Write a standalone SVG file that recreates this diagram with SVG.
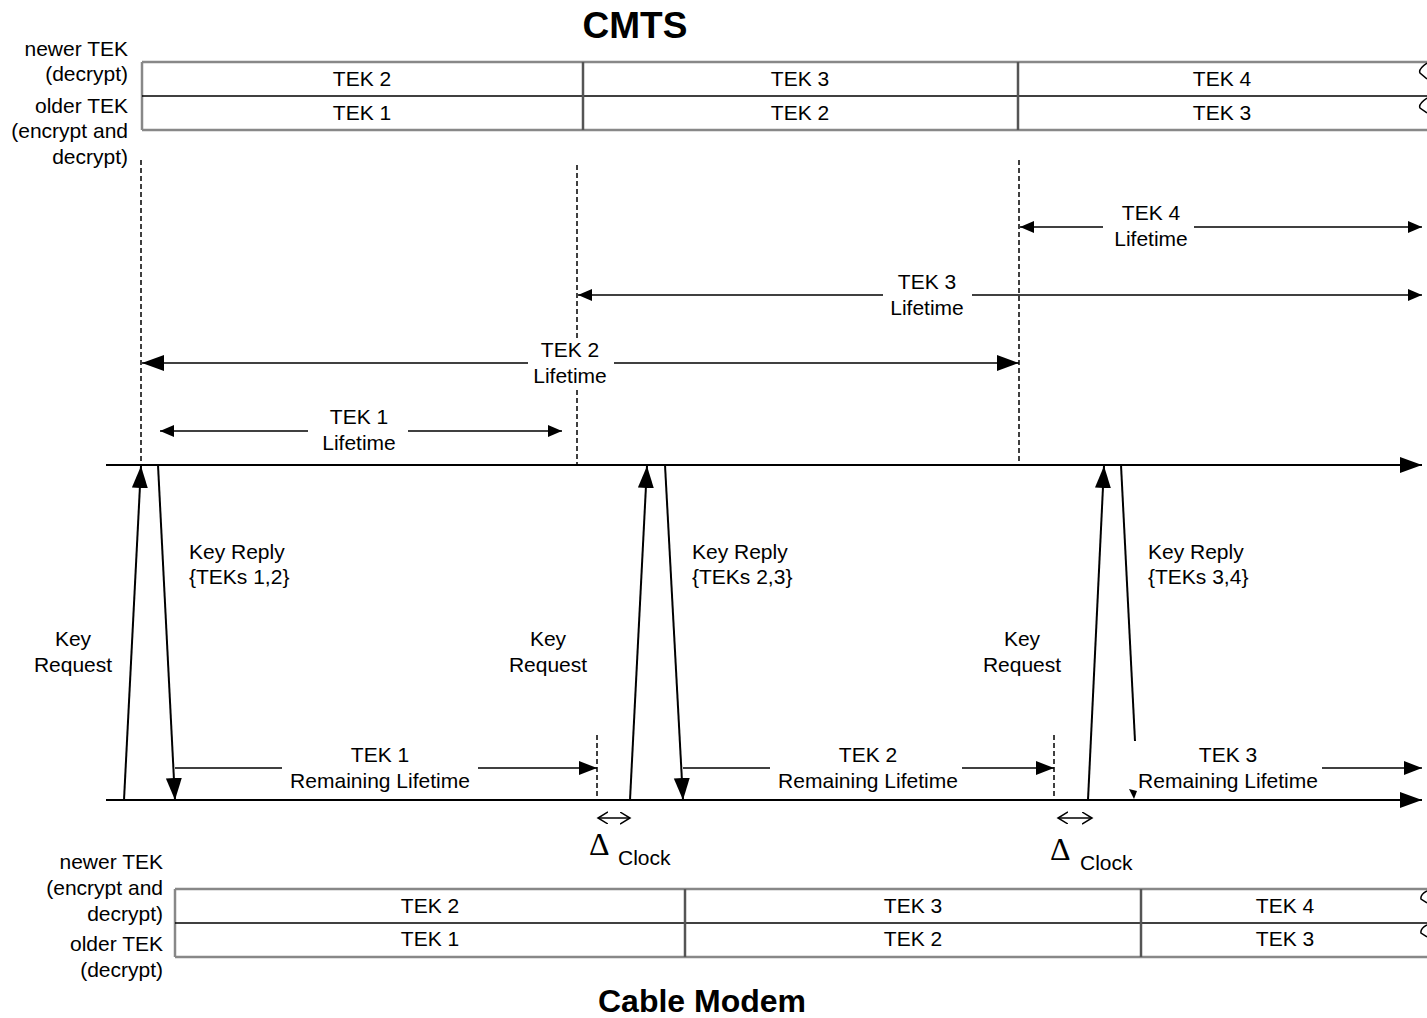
<svg xmlns="http://www.w3.org/2000/svg" width="1427" height="1018" viewBox="0 0 1427 1018">
<style>
text{font-family:"Liberation Sans",Arial,sans-serif;font-size:21px;fill:#000}
.t{text-anchor:middle}
.r{text-anchor:end}
.title{font-weight:bold;text-anchor:middle}
.ln{stroke:#000;stroke-width:1.5;fill:none}
.th{stroke:#000;stroke-width:2;fill:none}
.dash{stroke:#000;stroke-width:1.5;stroke-dasharray:5,3;fill:none}
.outer{stroke:#888;stroke-width:2.5;fill:none}
.col{stroke:#555;stroke-width:2.5;fill:none}
.delta{font-family:"Liberation Serif","Times New Roman",serif;font-size:32px}
</style>
<defs>
<marker id="aBig" markerUnits="userSpaceOnUse" markerWidth="24" markerHeight="18" refX="22" refY="8" orient="auto-start-reverse"><path d="M0,0 L22,8 L0,16 Z" fill="#000"/></marker>
<marker id="aMed" markerUnits="userSpaceOnUse" markerWidth="20" markerHeight="16" refX="18" refY="7" orient="auto-start-reverse"><path d="M0,0 L18,7 L0,14 Z" fill="#000"/></marker>
<marker id="aSm" markerUnits="userSpaceOnUse" markerWidth="16" markerHeight="14" refX="14" refY="6" orient="auto-start-reverse"><path d="M0,0 L14,6 L0,12 Z" fill="#000"/></marker>
<marker id="aOpen" markerUnits="userSpaceOnUse" markerWidth="12" markerHeight="14" refX="10" refY="6" orient="auto-start-reverse"><path d="M0,0 L10,6 L0,12" fill="none" stroke="#000" stroke-width="1.5"/></marker>
</defs>

<text x="635" y="38" class="title" style="font-size:37px">CMTS</text>
<text x="702" y="1012" class="title" style="font-size:32px">Cable Modem</text>

<g id="cmts-table">
<line x1="142" y1="62" x2="1427" y2="62" class="outer"/>
<line x1="142" y1="130" x2="1427" y2="130" class="outer"/>
<line x1="142" y1="62" x2="142" y2="130" class="outer"/>
<line x1="142" y1="96" x2="1427" y2="96" class="ln"/>
<line x1="583" y1="62" x2="583" y2="130" class="col"/>
<line x1="1018" y1="62" x2="1018" y2="130" class="col"/>
<path d="M1427,63 Q1418,69 1420,73 L1427,79" class="ln"/>
<path d="M1427,98 Q1418,104 1420,108 L1427,113" class="ln"/>
<text x="362" y="86" class="t">TEK 2</text>
<text x="362" y="120" class="t">TEK 1</text>
<text x="800" y="86" class="t">TEK 3</text>
<text x="800" y="120" class="t">TEK 2</text>
<text x="1222" y="86" class="t">TEK 4</text>
<text x="1222" y="120" class="t">TEK 3</text>
<text x="128" y="56" class="r">newer TEK</text>
<text x="128" y="81" class="r">(decrypt)</text>
<text x="128" y="113" class="r">older TEK</text>
<text x="128" y="138" class="r">(encrypt and</text>
<text x="128" y="164" class="r">decrypt)</text>
</g>

<g id="cm-table">
<line x1="175" y1="889" x2="1427" y2="889" class="outer"/>
<line x1="175" y1="957" x2="1427" y2="957" class="outer"/>
<line x1="175" y1="889" x2="175" y2="957" class="outer"/>
<line x1="175" y1="923" x2="1427" y2="923" class="ln"/>
<line x1="685" y1="889" x2="685" y2="957" class="col"/>
<line x1="1141" y1="889" x2="1141" y2="957" class="col"/>
<path d="M1427,891 Q1420,895 1421,899 L1427,903" class="ln"/>
<path d="M1427,925 Q1420,929 1421,933 L1427,937" class="ln"/>
<text x="430" y="913" class="t">TEK 2</text>
<text x="430" y="946" class="t">TEK 1</text>
<text x="913" y="913" class="t">TEK 3</text>
<text x="913" y="946" class="t">TEK 2</text>
<text x="1285" y="913" class="t">TEK 4</text>
<text x="1285" y="946" class="t">TEK 3</text>
<text x="163" y="869" class="r">newer TEK</text>
<text x="163" y="895" class="r">(encrypt and</text>
<text x="163" y="921" class="r">decrypt)</text>
<text x="163" y="951" class="r">older TEK</text>
<text x="163" y="977" class="r">(decrypt)</text>
</g>

<g id="connectors">
<line x1="106" y1="465" x2="1422" y2="465" class="th" marker-end="url(#aBig)"/>
<line x1="106" y1="800" x2="1422" y2="800" class="th" marker-end="url(#aBig)"/>
<line x1="141" y1="160" x2="141" y2="465" class="dash"/>
<line x1="577" y1="165" x2="577" y2="338" class="dash"/>
<line x1="577" y1="390" x2="577" y2="465" class="dash"/>
<line x1="1019" y1="160" x2="1019" y2="465" class="dash"/>
<line x1="597" y1="735" x2="597" y2="800" class="dash"/>
<line x1="1054" y1="735" x2="1054" y2="800" class="dash"/>
<line x1="1020" y1="227" x2="1103" y2="227" class="ln" marker-start="url(#aSm)"/>
<line x1="1194" y1="227" x2="1422" y2="227" class="ln" marker-end="url(#aSm)"/>
<line x1="578" y1="295" x2="883" y2="295" class="ln" marker-start="url(#aSm)"/>
<line x1="972" y1="295" x2="1422" y2="295" class="ln" marker-end="url(#aSm)"/>
<line x1="142" y1="363" x2="528" y2="363" class="ln" marker-start="url(#aBig)"/>
<line x1="614" y1="363" x2="1019" y2="363" class="ln" marker-end="url(#aBig)"/>
<line x1="160" y1="431" x2="308" y2="431" class="ln" marker-start="url(#aSm)"/>
<line x1="408" y1="431" x2="562" y2="431" class="ln" marker-end="url(#aSm)"/>
<line x1="124" y1="800" x2="141" y2="466" class="th" marker-end="url(#aBig)"/>
<line x1="158" y1="465" x2="175" y2="800" class="th" marker-end="url(#aBig)"/>
<line x1="630" y1="800" x2="647" y2="466" class="th" marker-end="url(#aBig)"/>
<line x1="665" y1="465" x2="683" y2="800" class="th" marker-end="url(#aBig)"/>
<line x1="1088" y1="800" x2="1104" y2="466" class="th" marker-end="url(#aBig)"/>
<line x1="1121" y1="465" x2="1135" y2="741" class="th"/>
<path d="M1129,789 L1137,791 L1134,799 Z" fill="#000"/>
<line x1="175" y1="768" x2="282" y2="768" class="ln"/>
<line x1="478" y1="768" x2="597" y2="768" class="ln" marker-end="url(#aMed)"/>
<line x1="683" y1="768" x2="770" y2="768" class="ln"/>
<line x1="962" y1="768" x2="1054" y2="768" class="ln" marker-end="url(#aMed)"/>
<line x1="1322" y1="768" x2="1422" y2="768" class="ln" marker-end="url(#aMed)"/>
<line x1="598" y1="818" x2="630" y2="818" class="ln" marker-start="url(#aOpen)" marker-end="url(#aOpen)"/>
<line x1="1058" y1="818" x2="1092" y2="818" class="ln" marker-start="url(#aOpen)" marker-end="url(#aOpen)"/>
</g>

<g id="labels">
<text x="1151" y="220" class="t">TEK 4</text>
<text x="1151" y="246" class="t">Lifetime</text>
<text x="927" y="289" class="t">TEK 3</text>
<text x="927" y="315" class="t">Lifetime</text>
<text x="570" y="357" class="t">TEK 2</text>
<text x="570" y="383" class="t">Lifetime</text>
<text x="359" y="424" class="t">TEK 1</text>
<text x="359" y="450" class="t">Lifetime</text>
<text x="189" y="559">Key Reply</text>
<text x="189" y="584">{TEKs 1,2}</text>
<text x="692" y="559">Key Reply</text>
<text x="692" y="584">{TEKs 2,3}</text>
<text x="1148" y="559">Key Reply</text>
<text x="1148" y="584">{TEKs 3,4}</text>
<text x="73" y="646" class="t">Key</text>
<text x="73" y="672" class="t">Request</text>
<text x="548" y="646" class="t">Key</text>
<text x="548" y="672" class="t">Request</text>
<text x="1022" y="646" class="t">Key</text>
<text x="1022" y="672" class="t">Request</text>
<text x="380" y="762" class="t">TEK 1</text>
<text x="380" y="788" class="t">Remaining Lifetime</text>
<text x="868" y="762" class="t">TEK 2</text>
<text x="868" y="788" class="t">Remaining Lifetime</text>
<text x="1228" y="762" class="t">TEK 3</text>
<text x="1228" y="788" class="t">Remaining Lifetime</text>
<text x="589" y="855" class="delta">Δ</text>
<text x="618" y="865">Clock</text>
<text x="1050" y="860" class="delta">Δ</text>
<text x="1080" y="870">Clock</text>
</g>
</svg>
